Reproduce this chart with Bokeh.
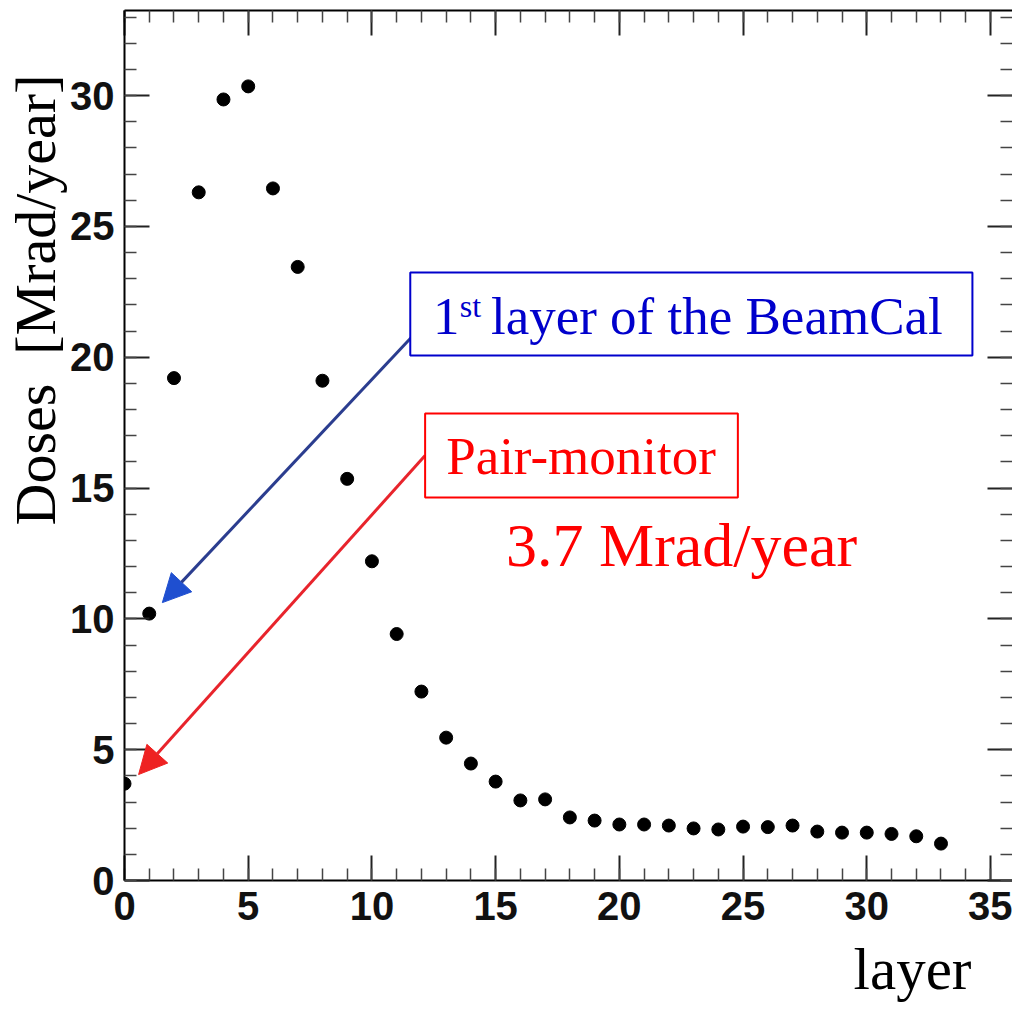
from bokeh.plotting import figure
from bokeh.models import (LinearAxis, SingleIntervalTicker, Label, Arrow,
                          NormalHead, BoxAnnotation, Range1d, Title,
                          CustomJSTickFormatter)
from bokeh.embed import file_html
from bokeh.resources import INLINE

# ---- data ----
layers = list(range(34))
doses = [3.7, 10.2, 19.2, 26.3, 29.85, 30.35, 26.45, 23.45, 19.1, 15.35,
         12.2, 9.42, 7.22, 5.46, 4.47, 3.78, 3.06, 3.1, 2.41, 2.29,
         2.14, 2.14, 2.1, 1.99, 1.95, 2.06, 2.04, 2.1, 1.87, 1.83,
         1.83, 1.78, 1.69, 1.41]

x_title = "layer"
y_title = "Doses\u00a0 [Mrad/year]"
beamcal_num = "1"
beamcal_sup = "st"
beamcal_rest = "layer of the BeamCal"
pair_text = "Pair-monitor"
pair_value = "3.7 Mrad/year"

# ---- figure ----
p = figure(width=1012, height=1016,
           x_range=Range1d(0, 35.89), y_range=Range1d(0, 33.25),
           output_backend="svg", toolbar_location=None,
           x_axis_type=None, y_axis_type=None,
           min_border_left=123, min_border_bottom=136,
           min_border_top=10, min_border_right=0)
p.background_fill_color = "white"
p.border_fill_color = "white"
p.outline_line_color = None


def make_axis(show_labels, standoff=10, line=True):
    ax = LinearAxis(ticker=SingleIntervalTicker(interval=5, num_minor_ticks=5))
    ax.major_tick_in = 25
    ax.major_tick_out = 0
    ax.minor_tick_in = 12
    ax.minor_tick_out = 0
    ax.major_tick_line_width = 2
    ax.minor_tick_line_width = 1.5
    ax.major_tick_line_color = "#222222"
    ax.minor_tick_line_color = "#444444"
    ax.axis_line_width = 2
    ax.axis_line_color = "black" if line else None
    if show_labels:
        ax.major_label_standoff = standoff
        ax.major_label_text_font = "Liberation Sans"
        ax.major_label_text_font_style = "bold"
        ax.major_label_text_font_size = "40px"
        ax.major_label_text_color = "#111111"
    else:
        ax.formatter = CustomJSTickFormatter(code="return ''")
        ax.major_label_standoff = 0
        ax.major_label_text_font_size = "0px"
    return ax


xax = make_axis(True, standoff=11)
yax = make_axis(True, standoff=10)
p.add_layout(xax, "below")
p.add_layout(yax, "left")
p.add_layout(make_axis(False), "above")
p.add_layout(make_axis(False, line=False), "right")

# axis titles (serif, placed off-centre as in the reference)
p.add_layout(Title(text=x_title, align="right", offset=41,
                   text_font="Liberation Serif", text_font_size="59px",
                   text_font_style="normal", text_color="black",
                   standoff=22), "below")
p.add_layout(Title(text=y_title, align="left", offset=355,
                   text_font="Liberation Serif", text_font_size="58px",
                   text_font_style="normal", text_color="black",
                   standoff=0), "left")

p.xgrid.ticker = xax.ticker
p.ygrid.ticker = yax.ticker
p.grid.grid_line_color = "#666666"
p.grid.grid_line_dash = "2 3"
p.grid.grid_line_width = 1

# ---- data points ----
p.scatter(layers, doses, size=13, color="black", marker="circle")

# ---- arrows ----
p.add_layout(Arrow(x_start=11.59, y_start=20.75, x_end=1.53, y_end=10.62,
                   line_color="#2b3d8f", line_width=3,
                   end=NormalHead(size=28, fill_color="#1f4fd0",
                                  line_color="#1f4fd0")))
p.add_layout(Arrow(x_start=12.15, y_start=16.24, x_end=0.57, y_end=4.05,
                   line_color="#e8242c", line_width=3,
                   end=NormalHead(size=28, fill_color="#ee2222",
                                  line_color="#ee2222")))

# ---- boxes ----
p.add_layout(BoxAnnotation(left=11.55, right=34.27, top=23.24, bottom=20.06,
                           fill_color="white", fill_alpha=1.0,
                           line_color="#0000cc", line_width=2, line_alpha=1.0))
p.add_layout(BoxAnnotation(left=12.15, right=24.79, top=17.85, bottom=14.64,
                           fill_color="white", fill_alpha=1.0,
                           line_color="#ff0000", line_width=2, line_alpha=1.0))

serif = "Liberation Serif"
blue = "#0000cc"
red = "#ff0000"


def lab(x, y, t, size, color):
    p.add_layout(Label(x=x, y=y, text=t, text_font=serif,
                       text_font_size=size, text_color=color,
                       text_align="left", text_baseline="alphabetic"))


lab(12.47, 21.56, beamcal_num, "53px", blue)
lab(13.55, 21.95, beamcal_sup, "32px", blue)
lab(14.81, 21.56, beamcal_rest, "53px", blue)
lab(13.0, 16.21, pair_text, "53px", red)
lab(15.42, 12.84, pair_value, "62px", red)

open("out.html", "w").write(file_html(p, INLINE))
